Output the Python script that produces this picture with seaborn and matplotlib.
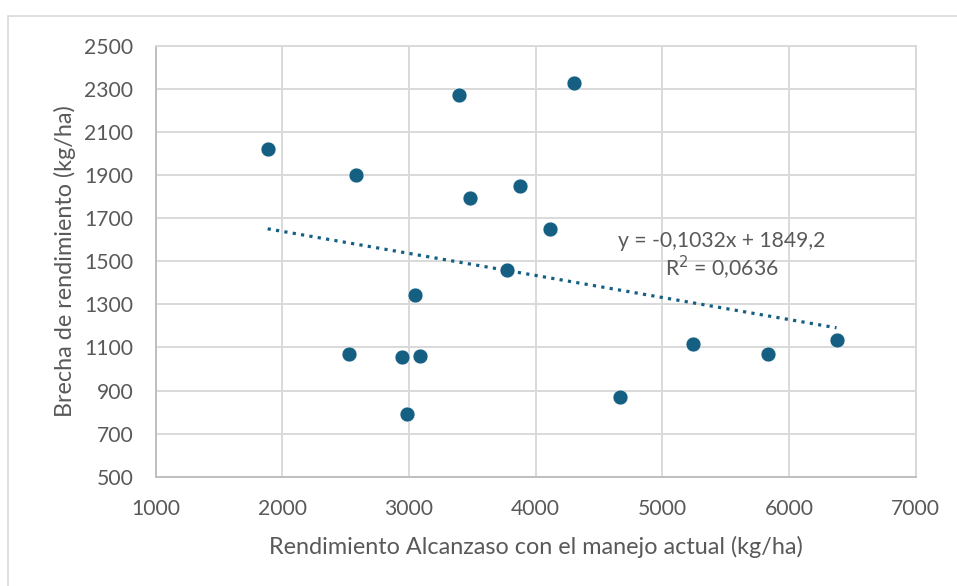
import numpy as np
import pandas as pd
import seaborn as sns
from matplotlib import pyplot as plt
from matplotlib.patches import Rectangle

# Datos
rendimiento = [1885, 2582, 3392, 4299, 3481, 3876, 4110, 3047, 2529,
               2947, 3087, 2987, 3771, 4662, 5241, 5835, 6374]
brecha = [2020, 1901, 2271, 2330, 1792, 1848, 1650, 1346, 1071,
          1054, 1060, 792, 1459, 869, 1114, 1072, 1137]
ecuacion = "y = -0,1032x + 1849,2"
r2_texto = "R$^2$ = 0,0636"

df = pd.DataFrame({"x": rendimiento, "y": brecha})

sns.set_style("white")
plt.rcParams['font.family'] = ['Lato', 'DejaVu Sans']

azul = "#156082"
gris = "#595959"

fig = plt.figure(figsize=(9.57, 5.86), dpi=100)
ax = fig.add_axes([0.1625, 0.1865, 0.7945, 0.735])

# marco del grafico
fig.patches.append(Rectangle((8 / 957, -0.05), 1.0, 1 - 16 / 586 + 0.05,
                             transform=fig.transFigure, fill=False,
                             edgecolor="#d9d9d9", linewidth=1.2))

sns.scatterplot(data=df, x="x", y="y", color=azul, s=115,
                edgecolor="white", linewidth=0.4, ax=ax, zorder=3)

# linea de tendencia
coef = np.polyfit(df["x"], df["y"], 1)
xs = np.array([df["x"].min(), df["x"].max()])
ax.plot(xs, np.polyval(coef, xs), linestyle=":", color=azul, linewidth=2.3, zorder=2)

ax.text(0.745, 0.5475, ecuacion, transform=ax.transAxes, ha="center", va="center",
        fontsize=15.2, color=gris)
ax.text(0.745, 0.485, r2_texto, transform=ax.transAxes, ha="center", va="center",
        fontsize=15.2, color=gris)

ax.set_xlim(1000, 7000)
ax.set_ylim(500, 2500)
ax.set_xticks(range(1000, 7001, 1000))
ax.set_yticks(range(500, 2501, 200))
ax.grid(True, color="#d9d9d9", linewidth=1.4)
ax.set_axisbelow(True)
for s in ["top", "right"]:
    ax.spines[s].set_color("#d9d9d9")
    ax.spines[s].set_linewidth(1.4)
for s in ["left", "bottom"]:
    ax.spines[s].set_color("#bfbfbf")
    ax.spines[s].set_linewidth(1.4)
ax.tick_params(axis="both", length=0, labelsize=15.2, labelcolor=gris, pad=16)

ax.set_xlabel("Rendimiento Alcanzaso con el manejo actual (kg/ha)", fontsize=16.8,
              color=gris, labelpad=12)
ax.set_ylabel("Brecha de rendimiento (kg/ha)", fontsize=16.8, color=gris, labelpad=6)

plt.savefig("out.png", dpi=100)
